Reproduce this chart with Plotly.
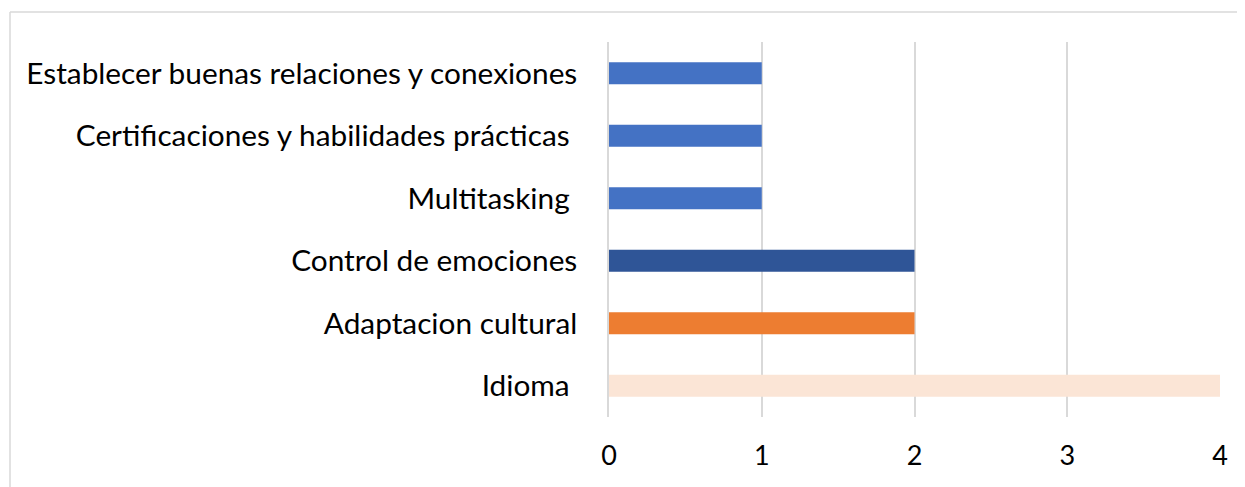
import plotly.graph_objects as go

categorias = ["Idioma ", "Adaptacion cultural", "Control de emociones", "Multitasking ",
              "Certificaciones y habilidades prácticas ", "Establecer buenas relaciones y conexiones"]
valores = [4, 2, 2, 1, 1, 1]
colores = ["#FBE5D6", "#ED7D31", "#2F5597", "#4472C4", "#4472C4", "#4472C4"]
ticks_x = [0, 1, 2, 3, 4]

fig = go.Figure()
fig.add_trace(go.Bar(x=valores, y=categorias, orientation="h",
                     marker=dict(color=colores, line=dict(width=0)), width=0.35))

# la pagina tiene 8px de margen en el body
W, H = 1237, 479
L, R, T, B = 601, 25, 34, 70
pw, ph = W - L - R, H - T - B

fig.update_layout(
    width=W, height=H,
    margin=dict(l=L, r=R, t=T, b=B),
    paper_bgcolor="white", plot_bgcolor="white",
    font=dict(family="Lato", color="black"),
    showlegend=False,
)
fig.update_xaxes(range=[0, 4], tickvals=ticks_x, showgrid=True, gridcolor="#D9D9D9",
                 gridwidth=1.5, zeroline=False, tickfont=dict(size=27),
                 ticklabelstandoff=20, fixedrange=True)
fig.update_yaxes(showgrid=False, tickfont=dict(size=29.8), ticklabelstandoff=24,
                 showline=True, linecolor="#D9D9D9", linewidth=1.5,
                 categoryorder="array", categoryarray=categorias, fixedrange=True)

# marco del grafico
fx = (2 - L) / pw
fy = (H - B - 4) / ph
fig.add_shape(type="line", xref="paper", yref="paper", x0=fx, x1=(W - L) / pw, y0=fy, y1=fy,
              line=dict(color="#D9D9D9", width=1.5))
fig.add_shape(type="line", xref="paper", yref="paper", x0=fx, x1=fx, y0=fy, y1=-B / ph,
              line=dict(color="#D9D9D9", width=1.5))

fig.write_html("out.html")
